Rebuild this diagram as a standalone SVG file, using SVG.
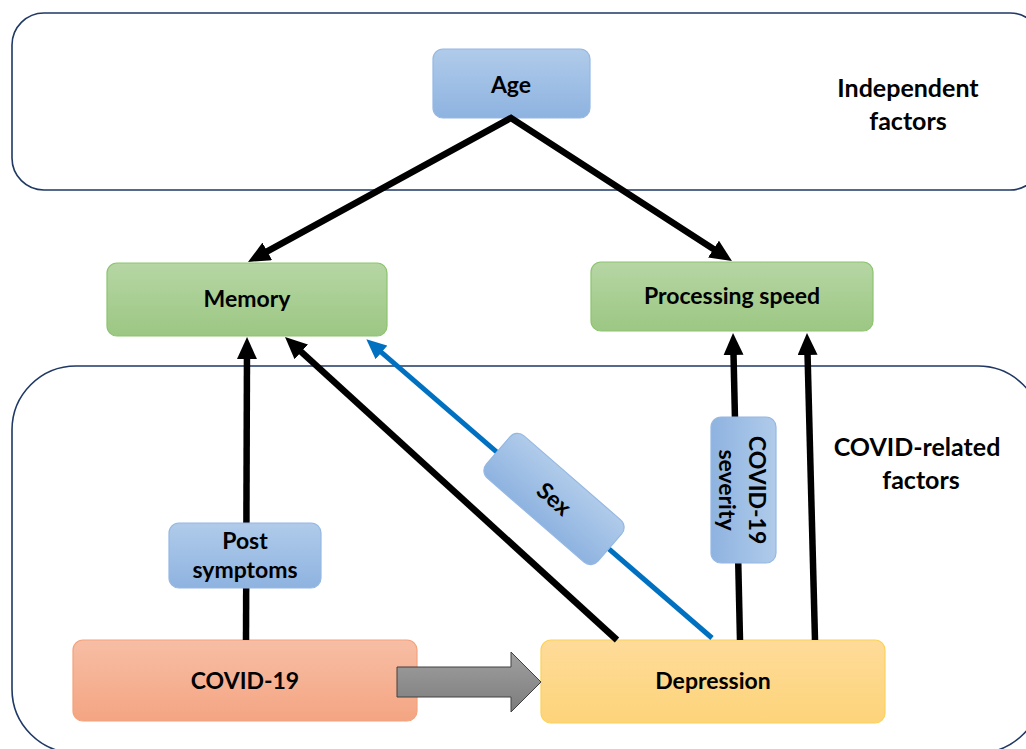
<svg xmlns="http://www.w3.org/2000/svg" width="1026" height="749" viewBox="0 0 1026 749">
<defs>
<linearGradient id="gBlue" x1="0" y1="0" x2="0" y2="1"><stop offset="0" stop-color="#b0cbea"/><stop offset="1" stop-color="#8eb3e0"/></linearGradient>
<linearGradient id="gGreen" x1="0" y1="0" x2="0" y2="1"><stop offset="0" stop-color="#b6d6a4"/><stop offset="1" stop-color="#9cc783"/></linearGradient>
<linearGradient id="gOrange" x1="0" y1="0" x2="0" y2="1"><stop offset="0" stop-color="#f7bea5"/><stop offset="1" stop-color="#f4a582"/></linearGradient>
<linearGradient id="gYellow" x1="0" y1="0" x2="0" y2="1"><stop offset="0" stop-color="#fedb99"/><stop offset="1" stop-color="#fdd47a"/></linearGradient>
<linearGradient id="gGray" x1="0" y1="0" x2="0" y2="1"><stop offset="0" stop-color="#a0a0a0"/><stop offset="1" stop-color="#7c7c7c"/></linearGradient>
<marker id="ahBlack" viewBox="0 0 22 20" markerWidth="22" markerHeight="20" markerUnits="userSpaceOnUse" refX="10" refY="10" orient="auto-start-reverse"><path d="M0,0 L22,10 L0,20 z" fill="#000"/></marker>
<marker id="ahBlue" viewBox="0 0 20 18" markerWidth="20" markerHeight="18" markerUnits="userSpaceOnUse" refX="8" refY="9" orient="auto"><path d="M0,0 L20,9 L0,18 z" fill="#0070c0"/></marker>
</defs>
<style>
.container{fill:#fff;stroke:#1f3864;stroke-width:1.6}
.lbl{font-family:Lato,"Liberation Sans",sans-serif;font-weight:bold;font-size:23px;fill:#000;text-anchor:middle}
.big{font-size:25px}
.blue{fill:url(#gBlue);stroke:#95b8e3;stroke-width:1.2}
.green{fill:url(#gGreen);stroke:#8cc46f;stroke-width:1.2}
.orange{fill:url(#gOrange);stroke:#f4a27c;stroke-width:1.2}
.yellow{fill:url(#gYellow);stroke:#fcd25a;stroke-width:1.2}
.k{stroke:#000;stroke-width:6.5;fill:none}
.kb{stroke:#0070c0;stroke-width:5;fill:none}
</style>
<rect width="1026" height="749" fill="#fff"/>
<g id="independent-factors">
<rect class="container" x="12" y="13" width="1030" height="177" rx="32"/>
<text class="lbl big" x="908" y="97">Independent</text>
<text class="lbl big" x="908" y="130">factors</text>
</g>
<g id="covid-related-factors">
<rect class="container" x="12" y="366" width="1030" height="387" rx="64"/>
<text class="lbl big" x="917" y="456">COVID-related</text>
<text class="lbl big" x="921" y="489">factors</text>
</g>
<g id="age"><rect class="blue" x="433" y="49" width="157" height="69" rx="10"/><text class="lbl" x="511" y="93">Age</text></g>
<g id="memory"><rect class="green" x="107" y="263" width="280" height="73" rx="10"/><text class="lbl" x="247" y="307">Memory</text></g>
<g id="processing-speed"><rect class="green" x="591" y="262" width="282" height="69" rx="10"/><text class="lbl" x="732" y="304">Processing speed</text></g>
<g id="covid-19"><rect class="orange" x="73" y="640" width="344" height="81" rx="10"/><text class="lbl" x="245" y="689">COVID-19</text></g>
<g id="depression"><rect class="yellow" x="541" y="640" width="344" height="83" rx="10"/><text class="lbl" x="713" y="689">Depression</text></g>
<g id="connectors">
<path class="k" d="M258.5,256.2 L511,118 L721.9,254.5" stroke-linejoin="miter" marker-start="url(#ahBlack)" marker-end="url(#ahBlack)"/>
<line class="k" x1="246" y1="640" x2="247" y2="349" marker-end="url(#ahBlack)"/>
<line class="k" x1="617" y1="640" x2="293.9" y2="345.1" marker-end="url(#ahBlack)"/>
<line class="kb" x1="712" y1="638" x2="375.4" y2="347.2" marker-end="url(#ahBlue)"/>
<line class="k" x1="740" y1="640" x2="733.3" y2="345" marker-end="url(#ahBlack)"/>
<line class="k" x1="815" y1="640" x2="807.3" y2="345" marker-end="url(#ahBlack)"/>
<polygon points="397,667 511,667 511,652 541,682 511,712 511,697 397,697" fill="url(#gGray)" stroke="#404040" stroke-width="1"/>
</g>
<g id="post-symptoms"><rect class="blue" x="169" y="523" width="152" height="65" rx="10"/><text class="lbl" x="245" y="549">Post</text><text class="lbl" x="245" y="578">symptoms</text></g>
<g id="sex" transform="translate(554,499) rotate(41)"><rect class="blue" x="-74" y="-28" width="148" height="56" rx="10"/><text class="lbl" x="0" y="8">Sex</text></g>
<g id="covid-19-severity" transform="translate(743.5,490) rotate(90)"><rect class="blue" x="-73" y="-32.5" width="146" height="65" rx="10"/><text class="lbl" x="0" y="-5.5">COVID-19</text><text class="lbl" x="0" y="24.5">severity</text></g>
</svg>
